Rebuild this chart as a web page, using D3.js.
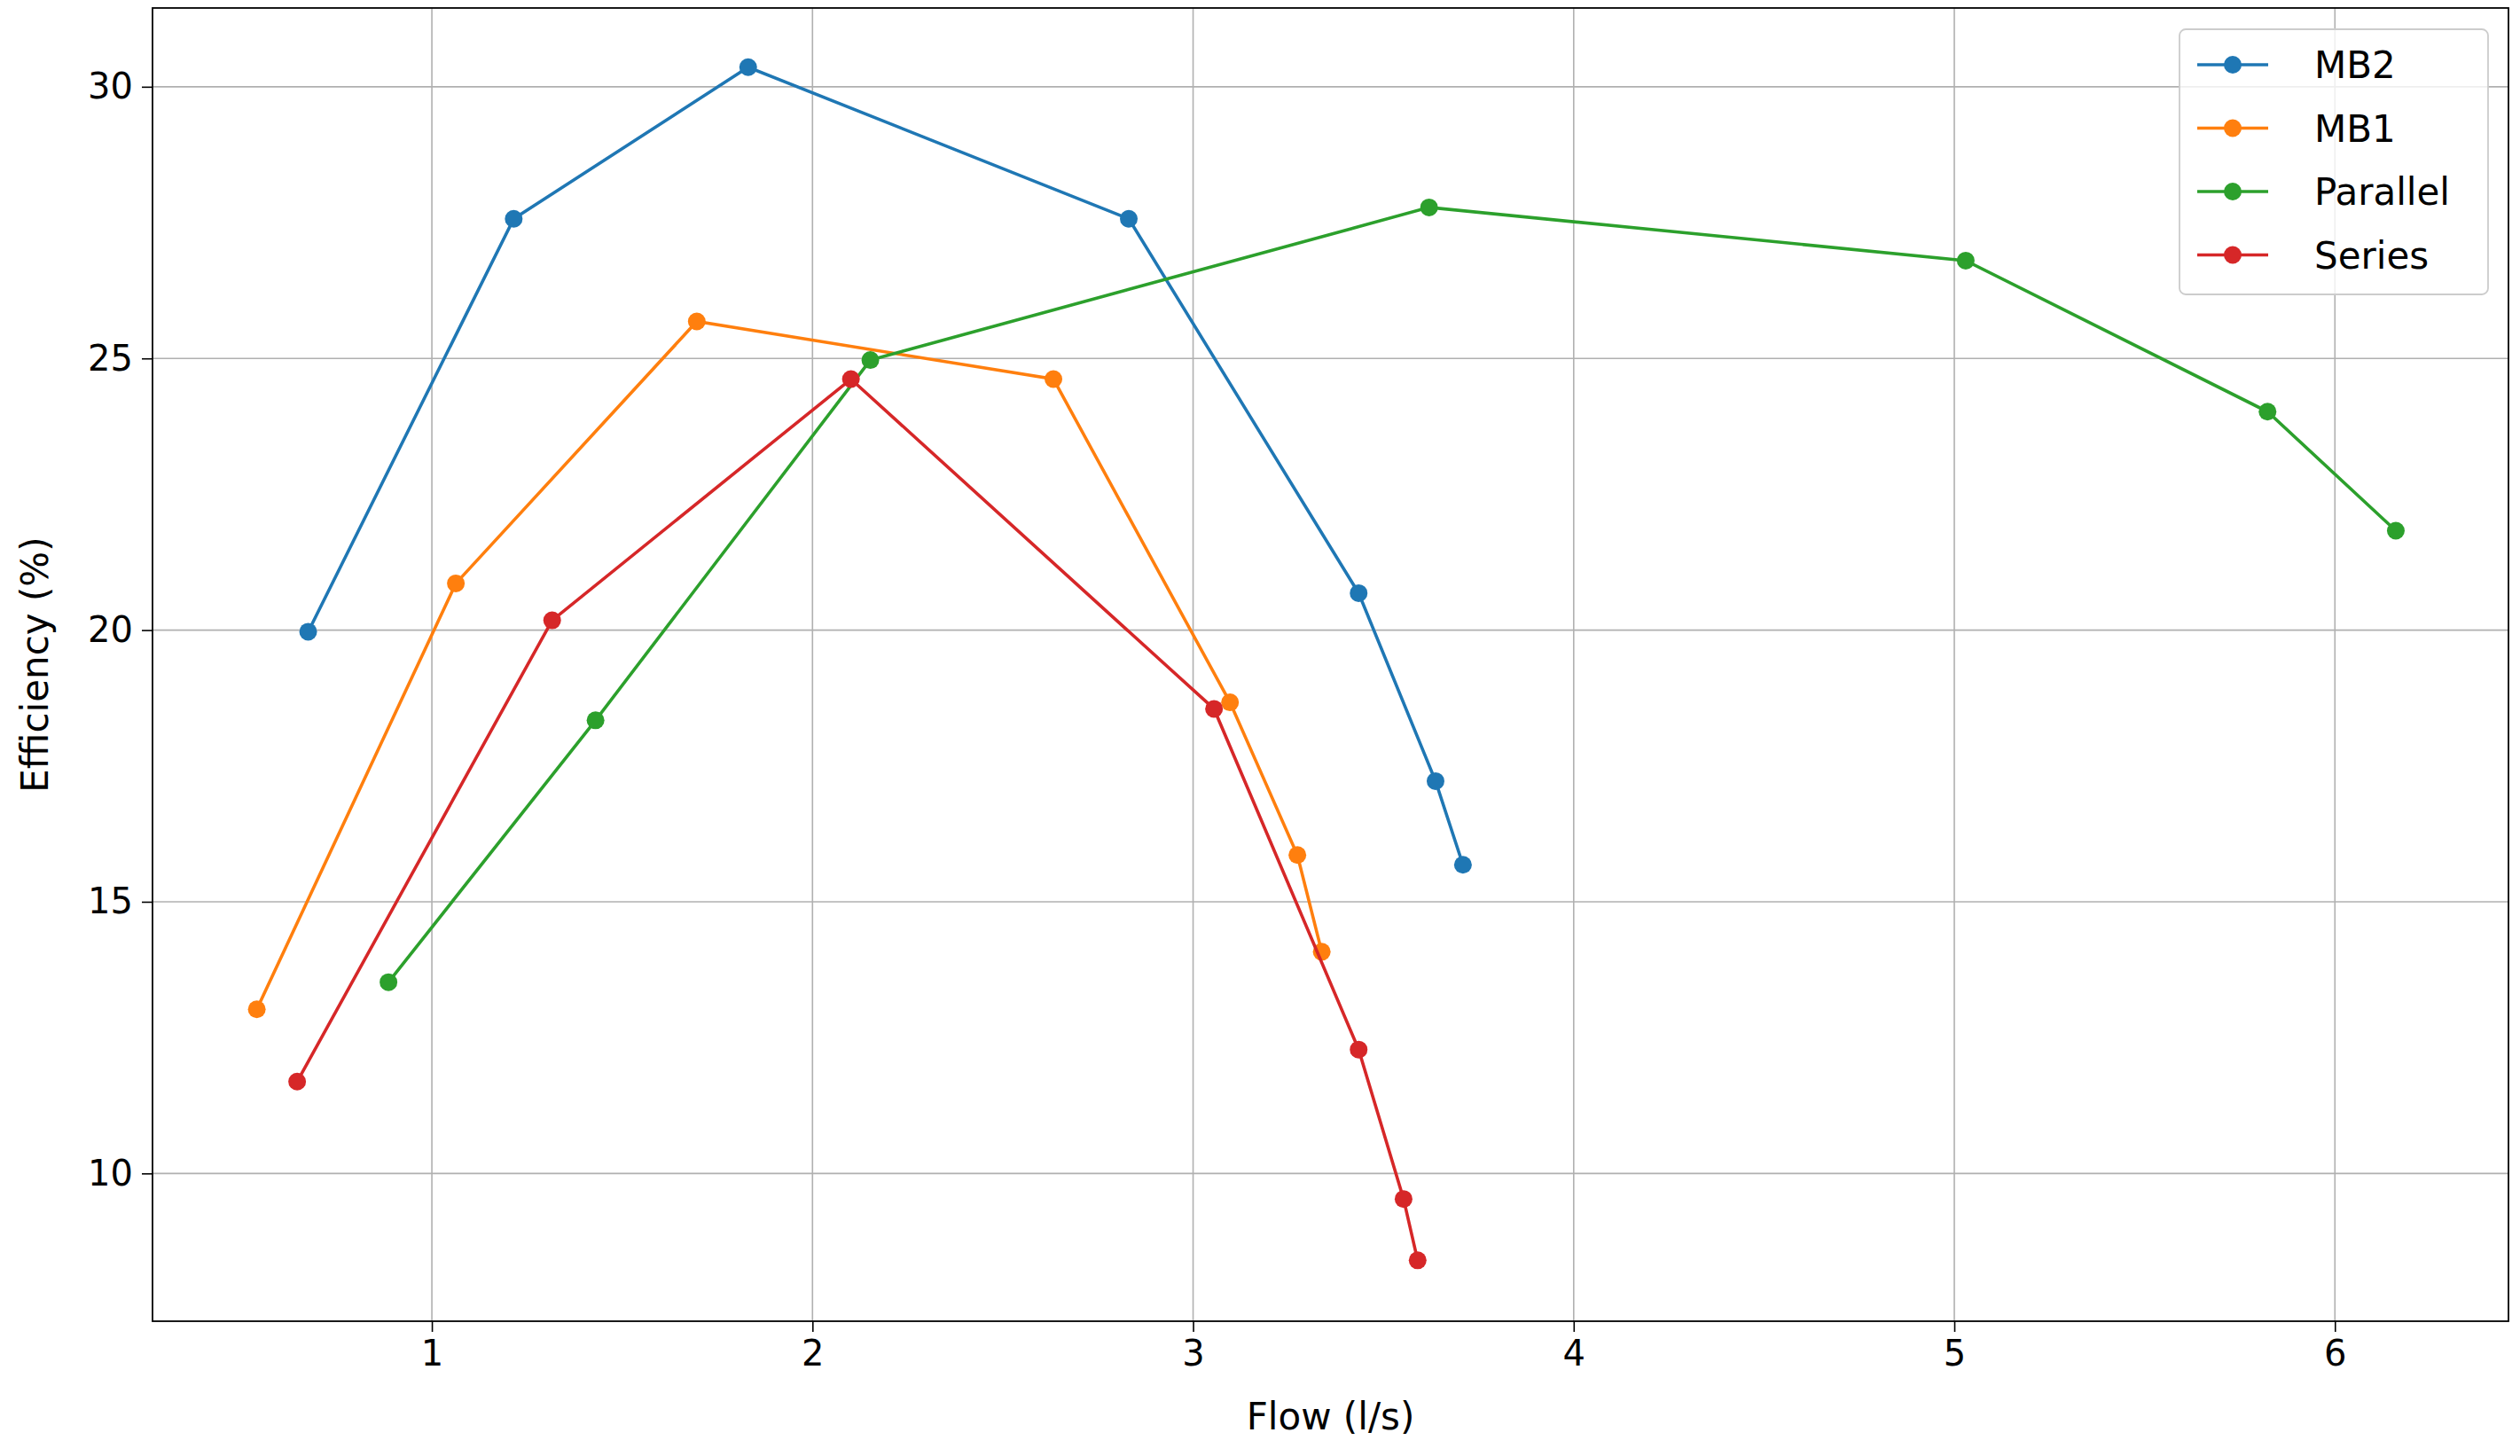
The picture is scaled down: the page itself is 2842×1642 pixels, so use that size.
<!DOCTYPE html>
<html><head><meta charset="utf-8">
<script src="https://cdn.jsdelivr.net/npm/d3@7"></script>
<style>body{margin:0;background:#fff}text{font-family:"DejaVu Sans",sans-serif}</style>
</head><body><div class="canvas"></div>
<script>
var seriesNames = ["MB2", "MB1", "Parallel", "Series"];
var colors = ["#1f77b4", "#ff7f0e", "#2ca02c", "#d62728"];
var mb2X = [0.675, 1.215, 1.831, 2.831, 3.435, 3.637, 3.709];
var mb2Y = [19.97, 27.57, 30.36, 27.57, 20.68, 17.22, 15.68];
var mb1X = [0.54, 1.063, 1.696, 2.633, 3.097, 3.274, 3.338];
var mb1Y = [13.02, 20.86, 25.68, 24.62, 18.67, 15.86, 14.08];
var parX = [0.886, 1.43, 2.152, 3.62, 5.03, 5.823, 6.16];
var parY = [13.52, 18.34, 24.97, 27.78, 26.80, 24.02, 21.83];
var serX = [0.646, 1.316, 2.101, 3.055, 3.435, 3.553, 3.59];
var serY = [11.69, 20.18, 24.62, 18.55, 12.28, 9.53, 8.40];
var xTicks = [1, 2, 3, 4, 5, 6];
var yTicks = [10, 15, 20, 25, 30];

(function() {
var width = 2842, height = 1642;
var pLeft = 172, pRight = 2829, pTop = 9, pBottom = 1490;
var svg = d3.select(".canvas").append("svg").attr("width", width).attr("height", height);
var x = d3.scaleLinear().domain([0.266, 6.456]).range([pLeft, pRight]);
var y = d3.scaleLinear().domain([7.28, 31.45]).range([pBottom, pTop]);

// grid
svg.selectAll(".gx").data(xTicks).enter().append("line")
   .attr("x1", function(d){return x(d);}).attr("x2", function(d){return x(d);})
   .attr("y1", pTop).attr("y2", pBottom).attr("stroke", "#b0b0b0").attr("stroke-width", 1.6);
svg.selectAll(".gy").data(yTicks).enter().append("line")
   .attr("y1", function(d){return y(d);}).attr("y2", function(d){return y(d);})
   .attr("x1", pLeft).attr("x2", pRight).attr("stroke", "#b0b0b0").attr("stroke-width", 1.6);

var xAxis = svg.append("g").attr("transform", "translate(0," + pBottom + ")")
   .call(d3.axisBottom(x).tickValues(xTicks).tickSize(12).tickPadding(10).tickFormat(d3.format("d")));
var yAxis = svg.append("g").attr("transform", "translate(" + pLeft + ",0)")
   .call(d3.axisLeft(y).tickValues(yTicks).tickSize(12).tickPadding(10).tickFormat(d3.format("d")));
[xAxis, yAxis].forEach(function(a){
    a.select(".domain").remove();
    a.selectAll("line").attr("stroke", "#000").attr("stroke-width", 1.6);
    a.selectAll("text").attr("font-size", 40).attr("fill", "#000").attr("font-family", "DejaVu Sans");
});
svg.append("rect").attr("x", pLeft).attr("y", pTop).attr("width", pRight - pLeft).attr("height", pBottom - pTop)
   .attr("fill", "none").attr("stroke", "#000").attr("stroke-width", 1.8);

svg.append("text").attr("x", (pLeft + pRight) / 2).attr("y", 1612).attr("text-anchor", "middle")
   .attr("font-size", 42).text("Flow (l/s)");
svg.append("text").attr("transform", "translate(54," + ((pTop + pBottom) / 2) + ") rotate(-90)")
   .attr("text-anchor", "middle").attr("font-size", 42).text("Efficiency (%)");

var allX = [mb2X, mb1X, parX, serX], allY = [mb2Y, mb1Y, parY, serY];
var line = d3.line().x(function(d){return x(d[0]);}).y(function(d){return y(d[1]);});
allX.forEach(function(xs, i) {
    var pts = xs.map(function(v, j){return [v, allY[i][j]];});
    svg.append("path").datum(pts).attr("d", line).attr("fill", "none")
       .attr("stroke", colors[i]).attr("stroke-width", 3.6);
    svg.selectAll(".dot" + i).data(pts).enter().append("circle")
       .attr("cx", function(d){return x(d[0]);}).attr("cy", function(d){return y(d[1]);})
       .attr("r", 10).attr("fill", colors[i]);
});

// legend
var lg = svg.append("g").attr("transform", "translate(2458,33)");
lg.append("rect").attr("width", 348).attr("height", 299).attr("rx", 7)
  .attr("fill", "#fff").attr("fill-opacity", 0.8).attr("stroke", "#ccc").attr("stroke-width", 1.8);
seriesNames.forEach(function(n, i) {
    var cy = 40 + i * 71.5;
    lg.append("line").attr("x1", 20).attr("x2", 100).attr("y1", cy).attr("y2", cy)
      .attr("stroke", colors[i]).attr("stroke-width", 3.6);
    lg.append("circle").attr("cx", 60).attr("cy", cy).attr("r", 10).attr("fill", colors[i]);
    lg.append("text").attr("x", 152).attr("y", cy + 15).attr("font-size", 42).text(n);
});
})();
</script></body></html>
